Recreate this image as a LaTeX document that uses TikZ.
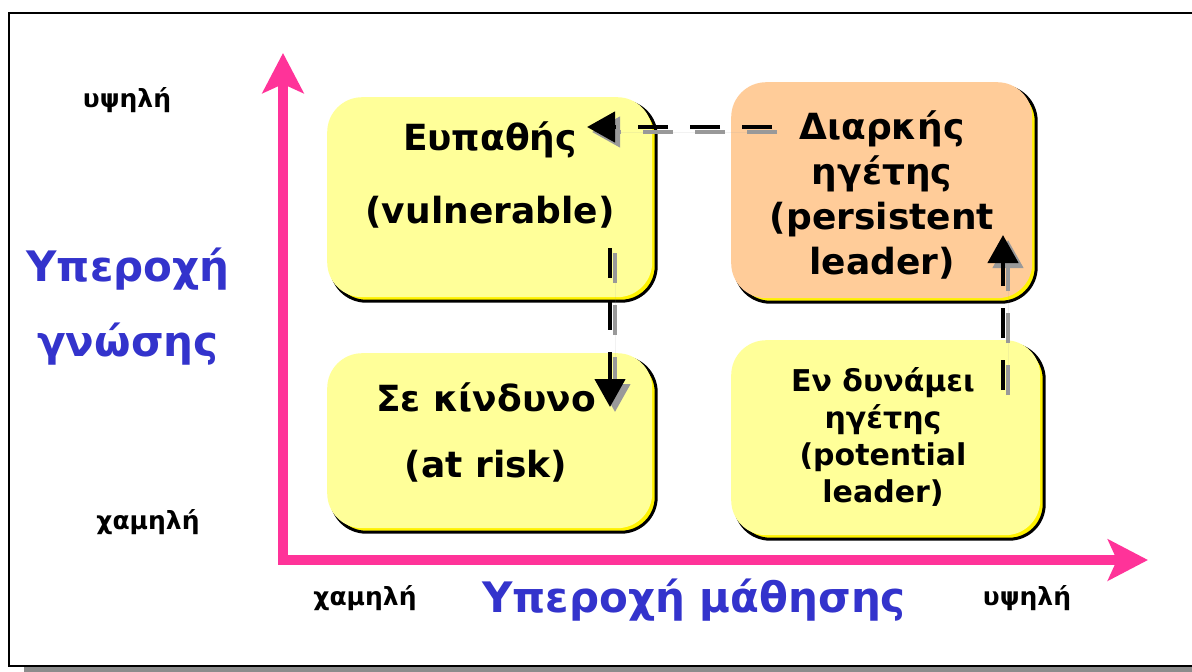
\documentclass[tikz,border=0pt]{standalone}
\usepackage{fontspec}
\setmainfont{DejaVu Sans}
\usetikzlibrary{arrows.meta,shadows}
\definecolor{axispink}{HTML}{FF3399}
\definecolor{titleblue}{HTML}{3333CC}
\definecolor{paleyellow}{HTML}{FFFF99}
\definecolor{peach}{HTML}{FFCC99}
\definecolor{shadowgray}{HTML}{999999}
\tikzset{
  quad/.style={rounded corners=35pt, inner sep=0pt, anchor=north west,
    drop shadow={shadow xshift=4pt, shadow yshift=-4pt, fill=yellow,
      draw=black, line width=3pt, opacity=1}},
  axis/.style={line width=10pt, draw=axispink, line join=miter,
    {Stealth[length=40pt,width=41pt,inset=9pt]}-{Stealth[length=40pt,width=41pt,inset=9pt]}},
  flow/.style={line width=4.5pt, dash pattern=on 30pt off 22pt,
    -{Triangle[length=28pt,width=30pt]}},
  flowshade/.style={flow, draw=shadowgray, fill=shadowgray},
  big/.style={font=\fontsize{36}{45}\selectfont\bfseries, align=center},
  mid/.style={font=\fontsize{30}{37}\selectfont\bfseries, align=center},
  small/.style={font=\fontsize{25}{28}\selectfont\bfseries},
  axtitle/.style={font=\fontsize{42}{75}\selectfont\bfseries, text=titleblue, align=center},
}
\begin{document}
\begin{tikzpicture}[x=1pt, y=-1pt]
  \useasboundingbox (0,0) rectangle (1192,672);
  % page frame with its shadow
  \fill[gray!90] (24,19) rectangle (1215,676);
  \draw[fill=white, line width=2.5pt] (9,13) rectangle (1205,666);

  % the four quadrants
  \node[quad, fill=paleyellow, minimum width=325pt, minimum height=200pt] (vul) at (327,97) {};
  \node[quad, fill=peach, minimum width=301pt, minimum height=216pt] (per) at (731,82) {};
  \node[quad, fill=paleyellow, minimum width=325pt, minimum height=175pt] (risk) at (327,353) {};
  \node[quad, fill=paleyellow, minimum width=309pt, minimum height=195pt] (pot) at (731,340) {};

  \node[big] (vulA) at (490,140) {Ευπαθής};
  \node[big] (vulB) at (490,212) {(vulnerable)};
  \node[big] (riskA) at (486,397) {Σε κίνδυνο};
  \node[big] (riskB) at (486,466) {(at risk)};
  \node[big] (perT) at (882,195) {Διαρκής\\ηγέτης\\(persistent\\leader)};
  \node[mid] (potT) at (883,437) {Εν δυνάμει\\ηγέτης\\(potential\\leader)};

  % axes
  \coordinate (O) at (283,560);
  \coordinate (ytip) at (283,53);
  \coordinate (xtip) at (1148,560);
  \draw[axis] (ytip) -- (O) -- (xtip);

  \node[small] (yhi) at (127,100) {υψηλή};
  \node[small] (ylo) at (148,522) {χαμηλή};
  \node[small] (xlo) at (365,598) {χαμηλή};
  \node[small] (xhi) at (1027,598) {υψηλή};
  \node[axtitle] (ytitle) at (128,307) {Υπεροχή\\γνώσης};
  \node[axtitle] (xtitle) at (694,600) {Υπεροχή μάθησης};

  % transitions between quadrants, each with a grey shadow
  \coordinate (h0) at (772,127);
  \coordinate (h1) at (587,127);
  \coordinate (d0) at (610,248);
  \coordinate (d1) at (610,407);
  \coordinate (u0) at (1003,390);
  \coordinate (u1) at (1003,235);
  \draw[flowshade] ([shift={(5,5)}]h0) -- ([shift={(5,5)}]h1);
  \draw[flowshade] ([shift={(5,5)}]d0) -- ([shift={(5,5)}]d1);
  \draw[flowshade] ([shift={(5,5)}]u0) -- ([shift={(5,5)}]u1);
  \draw[flow] (h0) -- (h1);
  \draw[flow] (d0) -- (d1);
  \draw[flow] (u0) -- (u1);
\end{tikzpicture}
\end{document}
